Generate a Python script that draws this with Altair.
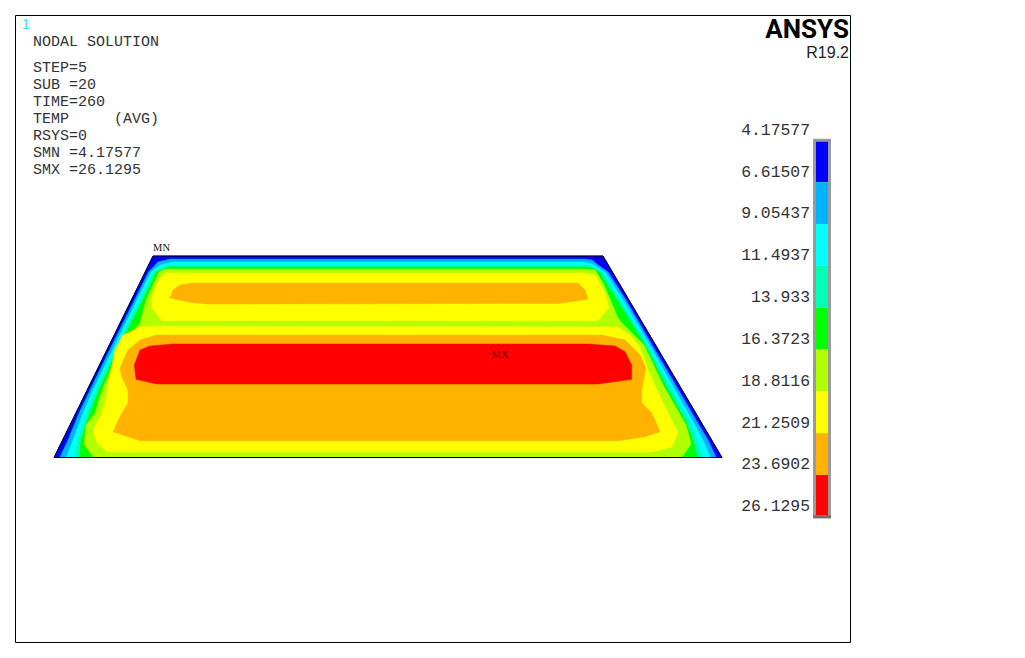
import altair as alt
import pandas as pd

# Contour regions: each is the area above a temperature level (reading coordinates of the model view)
regions = [
    ("#0000ff", [54,153,603,722], [457.5,256,256,457.5]),
    ("#00b2ff", [60,68,79,90,112,134.5,148.5,158,170,585,592,598,608,626,652,678.5,696,708,716],
                [457,440,413,390,345,300,272,262,259,259,260,265,272,300,345,390,420,440,457]),
    ("#00ffff", [66.5,73,83,93,115,137,151,160,172,583,592,605,623,649.5,675,692,703,710],
                [457,440,413,390,345,300,272,265,262,262,264,272,300,345,390,420,440,457]),
    ("#00ffb2", [75,78,87,96,117.5,140,153.5,163,170,585,592,602,620,647,672,689,697,702],
                [457,440,413,390,345,300,272,267,265,265,266.5,272,300,345,390,420,440,457]),
    ("#00ff00", [80,81,90,99,119.5,143,156,168,585,592,599,617,645,668,685,693,697],
                [457,440,413,390,345,300,272,267,267,268,272,300,345,390,420,440,457]),
    ("#b2ff00", [93,84,86,95,102,121,140,146,159,165,585,595,603,618,622,644,663,686,691,682],
                [457,444,425,413,390,345,323,300,272,269,269,270,283,318,323,345,385,425,444,457]),
    ("#ffff00", [165,157,152,152,162,598,609,605,595,582],
                [273,283,297,308,320.7,320.7,308,293,275,273]),
    ("#ffff00", [107,97,93,102,107,109,115,123,140,165,618,632,640,648,657,668,678,672,652],
                [452,443,430,413,395,380,350,335,327,326,327,337,348,370,390,413,432,447,452]),
    ("#ffb200", [193,180,173,170,190,206.7,558,588,585,578],
                [283,285,290,298,302.3,304,303.5,299.3,290,283]),
    ("#ffb200", [140,113,120,128,128,121.7,120,128,140,157,601.7,625,640,645.7,641.7,641.7,651.7,660,645,618],
                [440.7,431.7,416.7,403,390,376.7,368,350,340,335,335,340,355,368,390,403,413,431.7,436.7,440.7]),
    ("#ff0000", [173,150,140,134.3,136,156.7,598,631.7,631.7,625,615,588],
                [344,346,350,365,379.3,384,384,379.3,365,351.7,346,344]),
]
outline_x = [54,153,603,722]
outline_y = [457.5,256,256,457.5]

levels = [4.17577,6.61507,9.05437,11.4937,13.933,16.3723,18.8116,21.2509,23.6902,26.1295]
level_labels = ["4.17577","6.61507","9.05437","11.4937","13.933","16.3723","18.8116","21.2509","23.6902","26.1295"]
band_colors = ["#0000ff","#00b2ff","#00ffff","#00ffb2","#00ff00","#b2ff00","#ffff00","#ffb200","#ff0000"]

info_lines = ["NODAL SOLUTION","STEP=5","SUB =20","TIME=260","TEMP","(AVG)","RSYS=0","SMN =4.17577","SMX =26.1295"]
info_x = [33,33,33,33,33,114,33,33,33]
info_y = [41,67,84,101,118,118,135,152,169]

X = alt.Scale(domain=[15,850])
Y = alt.Scale(domain=[642,15])
L = alt.Scale(domain=[levels[0],levels[-1]], range=[125.3,501.8])
x_enc = alt.X("x:Q", scale=X, axis=None)
y_enc = alt.Y("y:Q", scale=Y, axis=None)

layers = []
for color, xs, ys in regions:
    d = pd.DataFrame({"x": xs, "y": ys, "i": range(len(xs))})
    layers.append(alt.Chart(d).mark_line(fill=color, stroke=color, strokeWidth=0.5, interpolate="linear-closed")
                  .encode(x=x_enc, y=y_enc, order="i:Q"))

d = pd.DataFrame({"x": outline_x, "y": outline_y, "i": range(4)})
layers.append(alt.Chart(d).mark_line(stroke="#000000", strokeWidth=1, interpolate="linear-closed")
              .encode(x=x_enc, y=y_enc, order="i:Q"))

def text(df, **kw):
    return alt.Chart(df).mark_text(baseline="middle", **kw).encode(x=x_enc, y=y_enc, text="t:N")

layers.append(text(pd.DataFrame({"x":info_x,"y":info_y,"t":info_lines}),
                   align="left", font="Liberation Mono", fontSize=15, color="#333333"))
layers.append(text(pd.DataFrame({"x":[22],"y":[25],"t":["1"]}), align="left", font="Liberation Sans", fontSize=14, color="#40e0e0"))
layers.append(text(pd.DataFrame({"x":[849],"y":[30],"t":["ANSYS"]}), align="right",
                   font="Roboto", fontWeight="bold", fontSize=26, color="#000000"))
layers.append(text(pd.DataFrame({"x":[849],"y":[52.5],"t":["R19.2"]}), align="right", font="Liberation Sans", fontSize=16, color="#222222"))
layers.append(text(pd.DataFrame({"x":[161.5],"y":[248],"t":["MN"]}), align="center", font="Liberation Serif", fontSize=10.5, color="#111111"))
layers.append(text(pd.DataFrame({"x":[500],"y":[355],"t":["MX"]}), align="center", font="Liberation Serif", fontSize=10.5, color="#6b0000"))

bands = pd.DataFrame({"lo": levels[:-1], "hi": levels[1:], "c": band_colors})
layers.append(alt.Chart(bands).mark_rect().encode(
    x=alt.value(799), x2=alt.value(816),
    y=alt.Y("lo:Q", scale=L, axis=None), y2="hi:Q",
    color=alt.Color("c:N", scale=None)))
frame = pd.DataFrame({"lo":[levels[0]], "hi":[levels[-1]]})
layers.append(alt.Chart(frame).mark_rect(fill=None, stroke="#9a9a9a", strokeWidth=3, strokeJoin="miter").encode(
    x=alt.value(799.5), x2=alt.value(814.5),
    y=alt.Y("lo:Q", scale=L, axis=None), y2="hi:Q"))
bottom = pd.DataFrame({"v":[levels[-1]]})
layers.append(alt.Chart(bottom).mark_rule(stroke="#707070", strokeWidth=3).encode(
    x=alt.value(798), x2=alt.value(816), y=alt.Y("v:Q", scale=L, axis=None)))
labels = pd.DataFrame({"v": levels, "t": level_labels})
layers.append(alt.Chart(labels).mark_text(align="right", baseline="middle", dy=-10.5, font="Liberation Mono",
                                          fontSize=16.4, color="#333333").encode(
    x=alt.value(795), y=alt.Y("v:Q", scale=L, axis=None), text="t:N"))

chart = alt.layer(*layers).resolve_scale(x="independent", y="independent").properties(
    width=835, height=627, padding={"left":7,"top":7,"right":160,"bottom":8}, background="white"
).configure_view(stroke="#000000", strokeWidth=1)

chart.save("out.html", embed_options={"renderer": "svg", "actions": False})
